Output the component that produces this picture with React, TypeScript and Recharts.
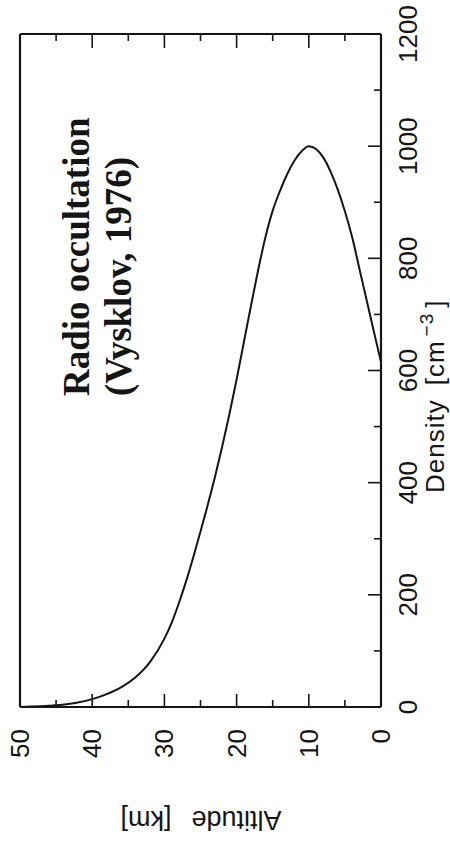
import React from 'react';
import { LineChart, Line, XAxis, YAxis, Customized } from 'recharts';

// altitude in km, ordered from the top of the profile down to the ground
const altitudeKm = [50, 45, 42, 40, 38, 36, 34, 32, 30, 29, 28, 27, 26, 25, 24, 23, 22, 21, 20, 19, 18, 17, 16, 15, 14, 13, 12, 11, 10, 9, 8, 7, 6, 5, 4, 3, 2, 1, 0];
const densityCm3 = [0, 3, 8, 14, 23, 35, 53, 80, 122, 150, 185, 224, 267, 313, 360, 410, 464, 522, 584, 650, 716, 780, 838, 885, 920, 950, 974, 991, 1000, 995, 980, 955, 923, 884, 838, 782, 726, 670, 615];

const altitudeTicks = [0, 5, 10, 15, 20, 25, 30, 35, 40, 45, 50];
const densityTicks = [0, 100, 200, 300, 400, 500, 600, 700, 800, 900, 1000, 1100, 1200];

const titleLines = ['Radio occultation', '(Vysklov, 1976)'];

const data = altitudeKm.map((alt, i) => ({ alt, density: densityCm3[i] }));

const INK = '#151515';
const AXIS_FONT = '"Liberation Sans", Arial, sans-serif';

const BottomTick = (props: any) => {
  const { x, y, payload } = props;
  const major = payload.value % 10 === 0;
  return (
    <g>
      <line x1={x} y1={y} x2={x} y2={y - (major ? 13 : 7)} stroke={INK} strokeWidth={1.6} />
      {major && (
        <text
          x={x + 9}
          y={729}
          transform={`rotate(-90 ${x + 9} 729)`}
          textAnchor="end"
          fontFamily={AXIS_FONT}
          fontSize={26}
          fill={INK}
        >
          {payload.value}
        </text>
      )}
    </g>
  );
};

const TopTick = (props: any) => {
  const { x, y, payload } = props;
  const major = payload.value % 10 === 0;
  return <line x1={x} y1={y} x2={x} y2={y + (major ? 14 : 7)} stroke={INK} strokeWidth={1.6} />;
};

const RightTick = (props: any) => {
  const { x, y, payload } = props;
  const major = payload.value % 200 === 0;
  return (
    <g>
      <line x1={x} y1={y} x2={x - (major ? 13 : 7)} y2={y} stroke={INK} strokeWidth={1.6} />
      {major && (
        <text
          x={417}
          y={y}
          transform={`rotate(-90 417 ${y})`}
          textAnchor="middle"
          fontFamily={AXIS_FONT}
          fontSize={26}
          fill={INK}
        >
          {payload.value}
        </text>
      )}
    </g>
  );
};

const LeftTick = (props: any) => {
  const { x, y, payload } = props;
  const major = payload.value % 200 === 0;
  return <line x1={x} y1={y} x2={x + (major ? 14 : 7)} y2={y} stroke={INK} strokeWidth={1.6} />;
};

const Annotations = () => (
  <g>
    {titleLines.map((line, i) => (
      <text
        key={line}
        x={89 + i * 42}
        y={396}
        transform={`rotate(-90 ${89 + i * 42} 396)`}
        textAnchor="start"
        fontFamily='"Liberation Serif", "Times New Roman", serif'
        fontWeight="bold"
        fontSize={37}
        fill={INK}
      >
        {line}
      </text>
    ))}
    <text
      x={444}
      y={493}
      transform="rotate(-90 444 493)"
      textAnchor="start"
      fontFamily={AXIS_FONT}
      fontSize={26}
      letterSpacing={1}
      fill={INK}
    >
      Density
      <tspan dx={14}>[cm</tspan>
      <tspan dx={4} dy={-11} fontSize={19}>−3</tspan>
      <tspan dx={5} dy={11}>]</tspan>
    </text>
    <text
      x={201}
      y={811}
      transform="rotate(180 201 811)"
      textAnchor="middle"
      fontFamily={AXIS_FONT}
      fontSize={27}
      fill={INK}
    >
      Altitude
      <tspan dx={20}>[km]</tspan>
    </text>
  </g>
);

const axisLine = { stroke: INK, strokeWidth: 2.2 };

export default function App() {
  return (
    <div style={{ position: 'absolute', left: 0, top: 0, background: '#fff' }}>
      <LineChart width={450} height={847} data={data} margin={{ top: 33, right: 68, bottom: 139, left: 19 }}>
        <XAxis
          xAxisId="bottom"
          type="number"
          dataKey="alt"
          domain={[0, 50]}
          reversed
          ticks={altitudeTicks}
          interval={0}
          height={1}
          tickSize={0}
          tickMargin={0}
          tickLine={false}
          axisLine={axisLine}
          tick={<BottomTick />}
        />
        <XAxis
          xAxisId="top"
          orientation="top"
          type="number"
          dataKey="alt"
          domain={[0, 50]}
          reversed
          ticks={altitudeTicks}
          interval={0}
          height={1}
          tickSize={0}
          tickMargin={0}
          tickLine={false}
          axisLine={axisLine}
          tick={<TopTick />}
        />
        <YAxis
          yAxisId="right"
          orientation="right"
          type="number"
          domain={[0, 1200]}
          ticks={densityTicks}
          interval={0}
          width={1}
          tickSize={0}
          tickMargin={0}
          tickLine={false}
          axisLine={axisLine}
          tick={<RightTick />}
        />
        <YAxis
          yAxisId="left"
          orientation="left"
          type="number"
          domain={[0, 1200]}
          ticks={densityTicks}
          interval={0}
          width={1}
          tickSize={0}
          tickMargin={0}
          tickLine={false}
          axisLine={axisLine}
          tick={<LeftTick />}
        />
        <Line
          xAxisId="bottom"
          yAxisId="right"
          type="monotone"
          dataKey="density"
          stroke={INK}
          strokeWidth={2}
          dot={false}
          isAnimationActive={false}
        />
        <Customized component={Annotations} />
      </LineChart>
    </div>
  );
}
